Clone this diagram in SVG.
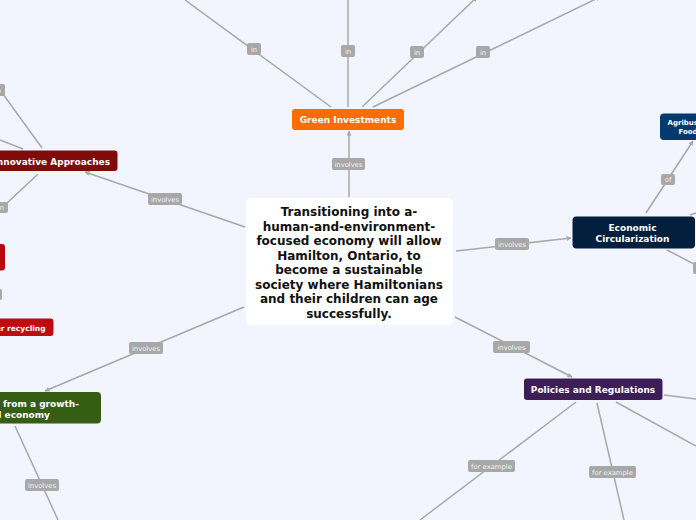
<svg xmlns="http://www.w3.org/2000/svg" width="696" height="520" viewBox="0 0 696 520">
<defs>
<marker id="arr" viewBox="0 0 10 10" refX="9" refY="5" markerWidth="5" markerHeight="5" orient="auto" markerUnits="userSpaceOnUse">
<path d="M0,0 L10,5 L0,10 z" fill="#a8a8a8"/>
</marker>
<style>
.bg{fill:#f2f5fe}
.ln{stroke:#a8a8a8;stroke-width:1.5;fill:none}
.lb rect{fill:#a8a8a8;rx:2px}
.lb text{font-family:"DejaVu Sans",Verdana,sans-serif;font-size:6.8px;fill:#f2f2f2;text-anchor:middle}
.nt{font-family:"DejaVu Sans",Verdana,sans-serif;font-weight:bold;font-size:9px;fill:#ffffff;text-anchor:middle}
.ct{font-family:"DejaVu Sans",Verdana,sans-serif;font-weight:bold;font-size:12px;fill:#111111;text-anchor:middle}
</style>
</defs>
<rect class="bg" x="0" y="0" width="696" height="520"/>

<g id="connectors">
<line class="ln" x1="349" y1="197" x2="349" y2="131" marker-end="url(#arr)"/>
<line class="ln" x1="331" y1="107" x2="185" y2="0"/>
<line class="ln" x1="348" y1="107" x2="348" y2="0"/>
<line class="ln" x1="362" y1="107" x2="477" y2="-3" marker-end="url(#arr)"/>
<line class="ln" x1="373" y1="107" x2="600" y2="-3" marker-end="url(#arr)"/>
<line class="ln" x1="245" y1="227" x2="85" y2="172" marker-end="url(#arr)"/>
<line class="ln" x1="42" y1="148" x2="0" y2="90"/>
<line class="ln" x1="23" y1="149" x2="0" y2="140"/>
<line class="ln" x1="38" y1="174" x2="6" y2="204"/>
<line class="ln" x1="244" y1="307" x2="45" y2="391" marker-end="url(#arr)"/>
<line class="ln" x1="15" y1="426" x2="58" y2="520"/>
<line class="ln" x1="456" y1="251" x2="571" y2="238" marker-end="url(#arr)"/>
<line class="ln" x1="646" y1="213" x2="693" y2="141" marker-end="url(#arr)"/>
<line class="ln" x1="690" y1="215" x2="696" y2="213"/>
<line class="ln" x1="667" y1="250" x2="696" y2="265"/>
<line class="ln" x1="455" y1="317" x2="572" y2="377" marker-end="url(#arr)"/>
<line class="ln" x1="664" y1="395" x2="696" y2="399"/>
<line class="ln" x1="616" y1="402" x2="696" y2="446"/>
<line class="ln" x1="597" y1="403" x2="624" y2="520"/>
<line class="ln" x1="576" y1="402" x2="420" y2="520"/>
</g>

<g id="labels">
<g class="lb"><rect x="332" y="158" width="33" height="12"/><text x="348.5" y="166.5">involves</text></g>
<g class="lb"><rect x="247" y="43" width="14" height="12"/><text x="254" y="51.5">in</text></g>
<g class="lb"><rect x="341" y="45" width="14" height="12"/><text x="348" y="53.5">in</text></g>
<g class="lb"><rect x="410" y="46" width="14" height="12"/><text x="417" y="54.5">in</text></g>
<g class="lb"><rect x="476" y="46" width="14" height="12"/><text x="483" y="54.5">in</text></g>
<g class="lb"><rect x="148" y="193" width="34" height="12"/><text x="165" y="201.5">involves</text></g>
<g class="lb"><rect x="-9" y="84" width="14" height="12"/><text x="-2" y="92.5">in</text></g>
<g class="lb"><rect x="-6" y="202" width="14" height="11"/><text x="1" y="210">in</text></g>
<g class="lb"><rect x="-20" y="289" width="22" height="11"/></g>
<g class="lb"><rect x="129" y="342" width="34" height="12"/><text x="146" y="350.5">involves</text></g>
<g class="lb"><rect x="25" y="479" width="34" height="12"/><text x="42" y="487.5">involves</text></g>
<g class="lb"><rect x="495" y="238" width="34" height="12"/><text x="512" y="246.5">involves</text></g>
<g class="lb"><rect x="493" y="341" width="37" height="12"/><text x="511.5" y="349.5">involves</text></g>
<g class="lb"><rect x="661" y="174" width="14" height="11"/><text x="668" y="182">of</text></g>
<g class="lb"><rect x="693" y="262" width="14" height="12"/></g>
<g class="lb"><rect x="468" y="460" width="47" height="12"/><text x="491.5" y="468.5">for example</text></g>
<g class="lb"><rect x="589" y="466" width="47" height="12"/><text x="612.5" y="474.5">for example</text></g>
</g>

<g id="central">
<rect x="246" y="198" width="207" height="127" rx="5" fill="#ffffff"/>
<text class="ct" x="349" y="216">Transitioning into a-</text>
<text class="ct" x="349" y="230.5">human-and-environment-</text>
<text class="ct" x="349" y="245">focused economy will allow</text>
<text class="ct" x="349" y="259.5">Hamilton, Ontario, to</text>
<text class="ct" x="349" y="274">become a sustainable</text>
<text class="ct" x="349" y="288.5">society where Hamiltonians</text>
<text class="ct" x="349" y="303">and their children can age</text>
<text class="ct" x="349" y="317.5">successfully.</text>
</g>

<g id="green-investments">
<rect x="292" y="109" width="112" height="21" rx="3" fill="#ff6c00"/>
<text class="nt" x="348" y="123">Green Investments</text>
</g>

<g id="innovative-approaches">
<rect x="-12" y="150.5" width="129.5" height="20.5" rx="3" fill="#7f0b0b"/>
<text class="nt" x="110" y="165" style="text-anchor:end">Innovative Approaches</text>
</g>

<g id="red-node">
<rect x="-20" y="244" width="25" height="26.5" rx="3" fill="#b60b0e"/>
</g>

<g id="recycling">
<rect x="-20" y="318.5" width="73.5" height="17.5" rx="3" fill="#c00b10"/>
<text class="nt" x="45.5" y="330.5" style="text-anchor:end;font-size:7.5px">er recycling</text>
</g>

<g id="growth">
<rect x="-20" y="392" width="121" height="31.5" rx="4" fill="#365d14"/>
<text class="nt" x="79" y="406.5" style="text-anchor:end">from a growth-</text>
<text class="nt" x="50" y="417.5" style="text-anchor:end">d economy</text>
</g>

<g id="economic-circularization">
<rect x="572.5" y="216.5" width="122.5" height="32" rx="4" fill="#031f3e"/>
<text class="nt" x="632.5" y="231">Economic</text>
<text class="nt" x="632.5" y="241.5">Circularization</text>
</g>

<g id="agribusiness">
<rect x="660" y="113.5" width="60" height="26.5" rx="4" fill="#023a6f"/>
<text class="nt" x="667.5" y="125" style="text-anchor:start;font-size:7px">Agribus</text>
<text class="nt" x="678.5" y="133.5" style="text-anchor:start;font-size:7px">Food</text>
</g>

<g id="policies">
<rect x="524" y="378.5" width="138.5" height="21.5" rx="3" fill="#3c1f57"/>
<text class="nt" x="593" y="393">Policies and Regulations</text>
</g>
</svg>
